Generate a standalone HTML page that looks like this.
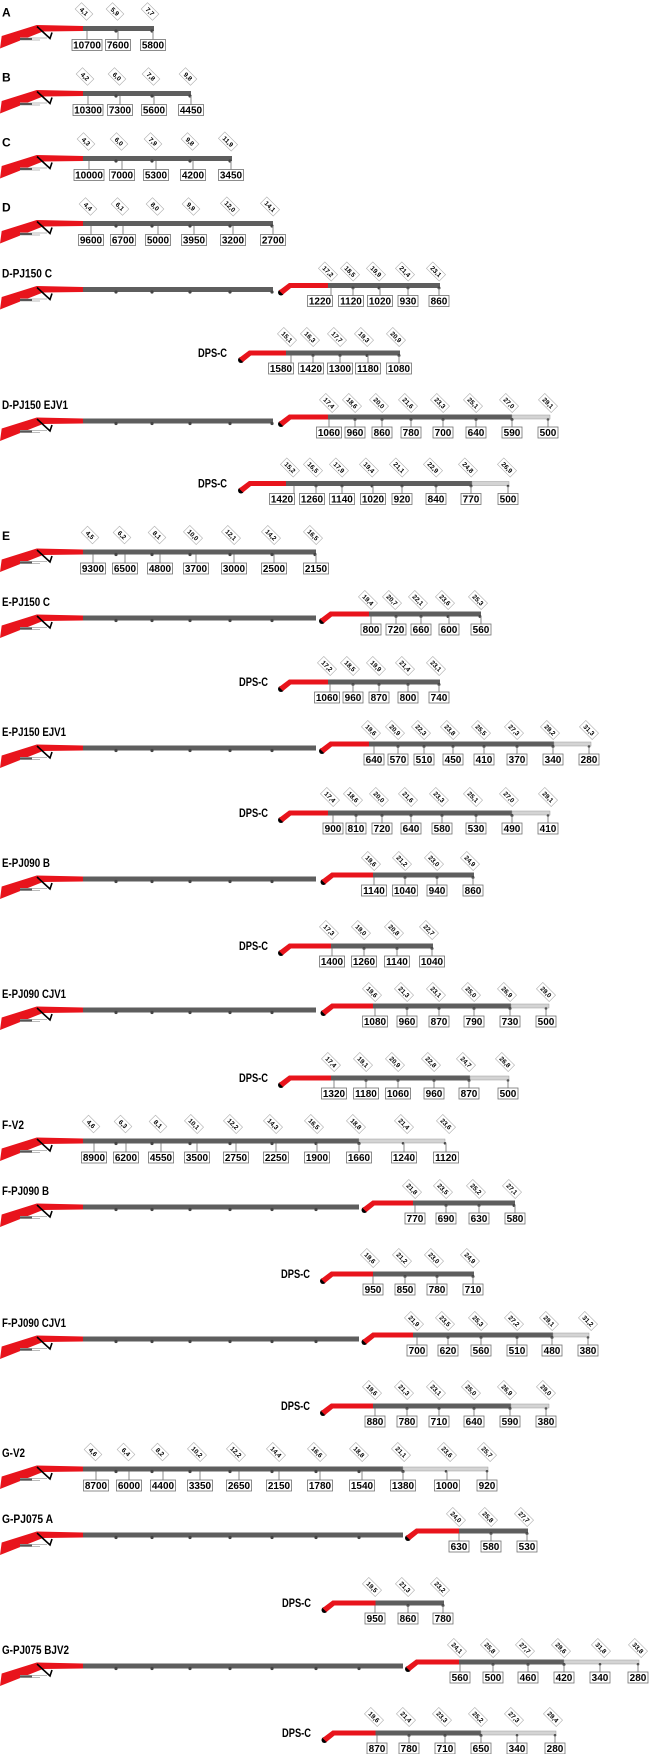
<!DOCTYPE html>
<html><head><meta charset="utf-8"><style>
html,body{margin:0;padding:0;background:#fff}
svg{display:block}
.t{font:bold 12px "Liberation Sans",sans-serif;fill:#000}
.d{fill:#5e5e5e}
.e{fill:#d4d4d4;stroke:#9a9a9a;stroke-width:.5}
.j{fill:#444}
.v line{stroke:#8a8a8a;stroke-width:1}
.v rect{fill:#fff;stroke:#707070;stroke-width:.8}
.v text{font:bold 10px "Liberation Sans",sans-serif;text-anchor:middle;fill:#000}
.l rect{fill:#fff;stroke:#b0b0b0;stroke-width:.6}
.l text{font:bold 6.5px "Liberation Sans",sans-serif;text-anchor:middle;fill:#000}
.r{fill:#e8141c}
</style></head><body>
<svg width="650" height="1754" viewBox="0 0 650 1754" xmlns="http://www.w3.org/2000/svg">
<defs>
<symbol id="b" overflow="visible"><polygon class="r" points="0,20 1.7,7.5 36.7,-3.5 83,-2.5 83,2.5 43,3"/><path d="M20,9.5H47M20,11.5H40" stroke="#bbb" stroke-width="1" fill="none"/><path d="M20,10.5H32" stroke="#555" stroke-width="2"/><path d="M37,-2 L50,10 L52,4" fill="none" stroke="#000" stroke-width="1.6"/></symbol>
<symbol id="jb" overflow="visible"><circle cx="0" cy="7" r="3" fill="#000"/><polygon class="r" points="-2,5 8,-2.5 12,-2.5 12,2.5 10,2.5 2,9"/></symbol>
</defs>

<!-- A -->
<g transform="translate(0,28.5)"><text class="t" x="2" y="-12">A</text><use href="#b"/>
<rect class="d" x="83" y="-2.5" width="71" height="5"/><circle class="j" cx="116" cy="2.5" r="1.6"/><circle class="j" cx="152" cy="2.5" r="1.6"/>
<g class="v" transform="translate(87,0)"><line y1="2.5" y2="11"/><rect x="-15" y="11" width="30" height="11"/><text y="20.2">10700</text></g>
<g class="v" transform="translate(118,0)"><line y1="2.5" y2="11"/><rect x="-12.5" y="11" width="25" height="11"/><text y="20.2">7600</text></g>
<g class="v" transform="translate(153,0)"><line y1="2.5" y2="11"/><rect x="-12.5" y="11" width="25" height="11"/><text y="20.2">5800</text></g>
<g class="l" transform="translate(84,-17) rotate(45)"><rect x="-8" y="-4.5" width="16" height="9"/><text y="2.3">4,1</text></g>
<g class="l" transform="translate(115,-17) rotate(45)"><rect x="-8" y="-4.5" width="16" height="9"/><text y="2.3">5,9</text></g>
<g class="l" transform="translate(150,-17) rotate(45)"><rect x="-8" y="-4.5" width="16" height="9"/><text y="2.3">7,7</text></g>
</g>

<!-- B -->
<g transform="translate(0,93.5)"><text class="t" x="2" y="-12">B</text><use href="#b"/>
<rect class="d" x="83" y="-2.5" width="108" height="5"/><circle class="j" cx="116" cy="2.5" r="1.6"/><circle class="j" cx="152" cy="2.5" r="1.6"/><circle class="j" cx="190" cy="2.5" r="1.6"/>
<g class="v" transform="translate(88,0)"><line y1="2.5" y2="11"/><rect x="-15" y="11" width="30" height="11"/><text y="20.2">10300</text></g>
<g class="v" transform="translate(120,0)"><line y1="2.5" y2="11"/><rect x="-12.5" y="11" width="25" height="11"/><text y="20.2">7300</text></g>
<g class="v" transform="translate(154,0)"><line y1="2.5" y2="11"/><rect x="-12.5" y="11" width="25" height="11"/><text y="20.2">5600</text></g>
<g class="v" transform="translate(191,0)"><line y1="2.5" y2="11"/><rect x="-12.5" y="11" width="25" height="11"/><text y="20.2">4450</text></g>
<g class="l" transform="translate(85,-17) rotate(45)"><rect x="-8" y="-4.5" width="16" height="9"/><text y="2.3">4,2</text></g>
<g class="l" transform="translate(117,-17) rotate(45)"><rect x="-8" y="-4.5" width="16" height="9"/><text y="2.3">6,0</text></g>
<g class="l" transform="translate(151,-17) rotate(45)"><rect x="-8" y="-4.5" width="16" height="9"/><text y="2.3">7,8</text></g>
<g class="l" transform="translate(188,-17) rotate(45)"><rect x="-8" y="-4.5" width="16" height="9"/><text y="2.3">9,8</text></g>
</g>

<!-- C -->
<g transform="translate(0,158.5)"><text class="t" x="2" y="-12">C</text><use href="#b"/>
<rect class="d" x="83" y="-2.5" width="149" height="5"/><circle class="j" cx="116" cy="2.5" r="1.6"/><circle class="j" cx="152" cy="2.5" r="1.6"/><circle class="j" cx="190" cy="2.5" r="1.6"/><circle class="j" cx="230" cy="2.5" r="1.6"/>
<g class="v" transform="translate(89,0)"><line y1="2.5" y2="11"/><rect x="-15" y="11" width="30" height="11"/><text y="20.2">10000</text></g>
<g class="v" transform="translate(122,0)"><line y1="2.5" y2="11"/><rect x="-12.5" y="11" width="25" height="11"/><text y="20.2">7000</text></g>
<g class="v" transform="translate(156,0)"><line y1="2.5" y2="11"/><rect x="-12.5" y="11" width="25" height="11"/><text y="20.2">5300</text></g>
<g class="v" transform="translate(193,0)"><line y1="2.5" y2="11"/><rect x="-12.5" y="11" width="25" height="11"/><text y="20.2">4200</text></g>
<g class="v" transform="translate(231,0)"><line y1="2.5" y2="11"/><rect x="-12.5" y="11" width="25" height="11"/><text y="20.2">3450</text></g>
<g class="l" transform="translate(86,-17) rotate(45)"><rect x="-8" y="-4.5" width="16" height="9"/><text y="2.3">4,3</text></g>
<g class="l" transform="translate(119,-17) rotate(45)"><rect x="-8" y="-4.5" width="16" height="9"/><text y="2.3">6,0</text></g>
<g class="l" transform="translate(153,-17) rotate(45)"><rect x="-8" y="-4.5" width="16" height="9"/><text y="2.3">7,9</text></g>
<g class="l" transform="translate(190,-17) rotate(45)"><rect x="-8" y="-4.5" width="16" height="9"/><text y="2.3">9,8</text></g>
<g class="l" transform="translate(228,-17) rotate(45)"><rect x="-9" y="-4.5" width="18" height="9"/><text y="2.3">11,9</text></g>
</g>

<!-- D -->
<g transform="translate(0,223.5)"><text class="t" x="2" y="-12">D</text><use href="#b"/>
<rect class="d" x="83" y="-2.5" width="190" height="5"/><circle class="j" cx="116" cy="2.5" r="1.6"/><circle class="j" cx="152" cy="2.5" r="1.6"/><circle class="j" cx="190" cy="2.5" r="1.6"/><circle class="j" cx="230" cy="2.5" r="1.6"/><circle class="j" cx="272" cy="2.5" r="1.6"/>
<g class="v" transform="translate(91,0)"><line y1="2.5" y2="11"/><rect x="-12.5" y="11" width="25" height="11"/><text y="20.2">9600</text></g>
<g class="v" transform="translate(123,0)"><line y1="2.5" y2="11"/><rect x="-12.5" y="11" width="25" height="11"/><text y="20.2">6700</text></g>
<g class="v" transform="translate(158,0)"><line y1="2.5" y2="11"/><rect x="-12.5" y="11" width="25" height="11"/><text y="20.2">5000</text></g>
<g class="v" transform="translate(194,0)"><line y1="2.5" y2="11"/><rect x="-12.5" y="11" width="25" height="11"/><text y="20.2">3950</text></g>
<g class="v" transform="translate(233,0)"><line y1="2.5" y2="11"/><rect x="-12.5" y="11" width="25" height="11"/><text y="20.2">3200</text></g>
<g class="v" transform="translate(273,0)"><line y1="2.5" y2="11"/><rect x="-12.5" y="11" width="25" height="11"/><text y="20.2">2700</text></g>
<g class="l" transform="translate(88,-17) rotate(45)"><rect x="-8" y="-4.5" width="16" height="9"/><text y="2.3">4,4</text></g>
<g class="l" transform="translate(120,-17) rotate(45)"><rect x="-8" y="-4.5" width="16" height="9"/><text y="2.3">6,1</text></g>
<g class="l" transform="translate(155,-17) rotate(45)"><rect x="-8" y="-4.5" width="16" height="9"/><text y="2.3">8,0</text></g>
<g class="l" transform="translate(191,-17) rotate(45)"><rect x="-8" y="-4.5" width="16" height="9"/><text y="2.3">9,9</text></g>
<g class="l" transform="translate(230,-17) rotate(45)"><rect x="-9" y="-4.5" width="18" height="9"/><text y="2.3">12,0</text></g>
<g class="l" transform="translate(270,-17) rotate(45)"><rect x="-9" y="-4.5" width="18" height="9"/><text y="2.3">14,1</text></g>
</g>

<!-- D-PJ150 C -->
<g transform="translate(0,289.5)"><text class="t" x="2" y="-12" textLength="50" lengthAdjust="spacingAndGlyphs">D-PJ150 C</text><use href="#b"/>
<rect class="d" x="83" y="-2.5" width="190" height="5"/><circle class="j" cx="116" cy="2.5" r="1.6"/><circle class="j" cx="152" cy="2.5" r="1.6"/><circle class="j" cx="190" cy="2.5" r="1.6"/><circle class="j" cx="230" cy="2.5" r="1.6"/><circle class="j" cx="272" cy="2.5" r="1.6"/>
<g transform="translate(0,-4)">
<use href="#jb" x="281"/><rect class="r" x="291" y="-2.5" width="37" height="5"/><rect class="d" x="328" y="-2.5" width="112" height="5"/>
<circle class="j" cx="353" cy="2.5" r="1.5"/><circle class="j" cx="379" cy="2.5" r="1.5"/><circle class="j" cx="408" cy="2.5" r="1.5"/><circle class="j" cx="439" cy="2.5" r="1.5"/>
<g class="v" transform="translate(320,0)"><line x1="11" x2="11" y1="2.5" y2="10"/><rect x="-12.5" y="10" width="25" height="11"/><text y="19.2">1220</text></g>
<g class="v" transform="translate(351,0)"><line x1="2" x2="2" y1="2.5" y2="10"/><rect x="-12.5" y="10" width="25" height="11"/><text y="19.2">1120</text></g>
<g class="v" transform="translate(380,0)"><line y1="2.5" y2="10"/><rect x="-12.5" y="10" width="25" height="11"/><text y="19.2">1020</text></g>
<g class="v" transform="translate(408,0)"><line y1="2.5" y2="10"/><rect x="-10" y="10" width="20" height="11"/><text y="19.2">930</text></g>
<g class="v" transform="translate(439,0)"><line y1="2.5" y2="10"/><rect x="-10" y="10" width="20" height="11"/><text y="19.2">860</text></g>
<g class="l" transform="translate(328,-14) rotate(45)"><rect x="-9" y="-4.5" width="18" height="9"/><text y="2.3">17,2</text></g>
<g class="l" transform="translate(350,-14) rotate(45)"><rect x="-9" y="-4.5" width="18" height="9"/><text y="2.3">18,5</text></g>
<g class="l" transform="translate(376,-14) rotate(45)"><rect x="-9" y="-4.5" width="18" height="9"/><text y="2.3">19,9</text></g>
<g class="l" transform="translate(405,-14) rotate(45)"><rect x="-9" y="-4.5" width="18" height="9"/><text y="2.3">21,4</text></g>
<g class="l" transform="translate(436,-14) rotate(45)"><rect x="-9" y="-4.5" width="18" height="9"/><text y="2.3">23,1</text></g>
</g></g>

<!-- DPS-C (D-PJ150 C) -->
<g transform="translate(0,353)"><text class="t" x="198" y="4" textLength="29" lengthAdjust="spacingAndGlyphs">DPS-C</text>
<use href="#jb" x="241"/><rect class="r" x="251" y="-2.5" width="35" height="5"/><rect class="d" x="286" y="-2.5" width="114" height="5"/>
<circle class="j" cx="313" cy="2.5" r="1.5"/><circle class="j" cx="340" cy="2.5" r="1.5"/><circle class="j" cx="367" cy="2.5" r="1.5"/><circle class="j" cx="399" cy="2.5" r="1.5"/>
<g class="v" transform="translate(281,0)"><line x1="10" x2="10" y1="2.5" y2="10"/><rect x="-12.5" y="10" width="25" height="11"/><text y="19.2">1580</text></g>
<g class="v" transform="translate(311,0)"><line x1="2" x2="2" y1="2.5" y2="10"/><rect x="-12.5" y="10" width="25" height="11"/><text y="19.2">1420</text></g>
<g class="v" transform="translate(340,0)"><line y1="2.5" y2="10"/><rect x="-12.5" y="10" width="25" height="11"/><text y="19.2">1300</text></g>
<g class="v" transform="translate(368,0)"><line y1="2.5" y2="10"/><rect x="-12.5" y="10" width="25" height="11"/><text y="19.2">1180</text></g>
<g class="v" transform="translate(399,0)"><line y1="2.5" y2="10"/><rect x="-12.5" y="10" width="25" height="11"/><text y="19.2">1080</text></g>
<g class="l" transform="translate(287,-16) rotate(45)"><rect x="-9" y="-4.5" width="18" height="9"/><text y="2.3">15,1</text></g>
<g class="l" transform="translate(310,-16) rotate(45)"><rect x="-9" y="-4.5" width="18" height="9"/><text y="2.3">16,3</text></g>
<g class="l" transform="translate(337,-16) rotate(45)"><rect x="-9" y="-4.5" width="18" height="9"/><text y="2.3">17,7</text></g>
<g class="l" transform="translate(364,-16) rotate(45)"><rect x="-9" y="-4.5" width="18" height="9"/><text y="2.3">19,3</text></g>
<g class="l" transform="translate(396,-16) rotate(45)"><rect x="-9" y="-4.5" width="18" height="9"/><text y="2.3">20,9</text></g>
</g>

<!-- D-PJ150 EJV1 -->
<g transform="translate(0,421)"><text class="t" x="2" y="-12" textLength="66" lengthAdjust="spacingAndGlyphs">D-PJ150 EJV1</text><use href="#b"/>
<rect class="d" x="83" y="-2.5" width="190" height="5"/><circle class="j" cx="116" cy="2.5" r="1.6"/><circle class="j" cx="152" cy="2.5" r="1.6"/><circle class="j" cx="190" cy="2.5" r="1.6"/><circle class="j" cx="230" cy="2.5" r="1.6"/><circle class="j" cx="272" cy="2.5" r="1.6"/>
<g transform="translate(0,-4)">
<use href="#jb" x="281"/><rect class="r" x="291" y="-2.5" width="37" height="5"/><rect class="d" x="328" y="-2.5" width="184" height="5"/><rect class="e" x="512" y="-2" width="38" height="4"/>
<circle class="j" cx="355" cy="2.5" r="1.5"/><circle class="j" cx="382" cy="2.5" r="1.5"/><circle class="j" cx="411" cy="2.5" r="1.5"/><circle class="j" cx="443" cy="2.5" r="1.5"/><circle class="j" cx="476" cy="2.5" r="1.5"/><circle class="j" cx="512" cy="2.5" r="1.5"/><circle class="j" cx="548" cy="2.5" r="1.3"/>
<g class="v" transform="translate(329,0)"><line y1="2.5" y2="10"/><rect x="-12.5" y="10" width="25" height="11"/><text y="19.2">1060</text></g>
<g class="v" transform="translate(355,0)"><line y1="2.5" y2="10"/><rect x="-10" y="10" width="20" height="11"/><text y="19.2">960</text></g>
<g class="v" transform="translate(382,0)"><line y1="2.5" y2="10"/><rect x="-10" y="10" width="20" height="11"/><text y="19.2">860</text></g>
<g class="v" transform="translate(411,0)"><line y1="2.5" y2="10"/><rect x="-10" y="10" width="20" height="11"/><text y="19.2">780</text></g>
<g class="v" transform="translate(443,0)"><line y1="2.5" y2="10"/><rect x="-10" y="10" width="20" height="11"/><text y="19.2">700</text></g>
<g class="v" transform="translate(476,0)"><line y1="2.5" y2="10"/><rect x="-10" y="10" width="20" height="11"/><text y="19.2">640</text></g>
<g class="v" transform="translate(512,0)"><line y1="2.5" y2="10"/><rect x="-10" y="10" width="20" height="11"/><text y="19.2">590</text></g>
<g class="v" transform="translate(548,0)"><line y1="2.5" y2="10"/><rect x="-10" y="10" width="20" height="11"/><text y="19.2">500</text></g>
<g class="l" transform="translate(329,-14) rotate(45)"><rect x="-9" y="-4.5" width="18" height="9"/><text y="2.3">17,4</text></g>
<g class="l" transform="translate(352,-14) rotate(45)"><rect x="-9" y="-4.5" width="18" height="9"/><text y="2.3">18,6</text></g>
<g class="l" transform="translate(379,-14) rotate(45)"><rect x="-9" y="-4.5" width="18" height="9"/><text y="2.3">20,0</text></g>
<g class="l" transform="translate(408,-14) rotate(45)"><rect x="-9" y="-4.5" width="18" height="9"/><text y="2.3">21,6</text></g>
<g class="l" transform="translate(440,-14) rotate(45)"><rect x="-9" y="-4.5" width="18" height="9"/><text y="2.3">23,3</text></g>
<g class="l" transform="translate(473,-14) rotate(45)"><rect x="-9" y="-4.5" width="18" height="9"/><text y="2.3">25,1</text></g>
<g class="l" transform="translate(509,-14) rotate(45)"><rect x="-9" y="-4.5" width="18" height="9"/><text y="2.3">27,0</text></g>
<g class="l" transform="translate(548,-14) rotate(45)"><rect x="-9" y="-4.5" width="18" height="9"/><text y="2.3">29,1</text></g>
</g></g>

<!-- DPS-C (D-PJ150 EJV1) -->
<g transform="translate(0,483.5)"><text class="t" x="198" y="4" textLength="29" lengthAdjust="spacingAndGlyphs">DPS-C</text>
<use href="#jb" x="241"/><rect class="r" x="251" y="-2.5" width="35" height="5"/><rect class="d" x="286" y="-2.5" width="186" height="5"/><rect class="e" x="472" y="-2" width="37" height="4"/>
<circle class="j" cx="316" cy="2.5" r="1.5"/><circle class="j" cx="342" cy="2.5" r="1.5"/><circle class="j" cx="372" cy="2.5" r="1.5"/><circle class="j" cx="402" cy="2.5" r="1.5"/><circle class="j" cx="436" cy="2.5" r="1.5"/><circle class="j" cx="471" cy="2.5" r="1.5"/><circle class="j" cx="508" cy="2.5" r="1.3"/>
<g class="v" transform="translate(282,0)"><line x1="12" x2="12" y1="2.5" y2="10"/><rect x="-12.5" y="10" width="25" height="11"/><text y="19.2">1420</text></g>
<g class="v" transform="translate(312,0)"><line x1="4" x2="4" y1="2.5" y2="10"/><rect x="-12.5" y="10" width="25" height="11"/><text y="19.2">1260</text></g>
<g class="v" transform="translate(342,0)"><line y1="2.5" y2="10"/><rect x="-12.5" y="10" width="25" height="11"/><text y="19.2">1140</text></g>
<g class="v" transform="translate(373,0)"><line y1="2.5" y2="10"/><rect x="-12.5" y="10" width="25" height="11"/><text y="19.2">1020</text></g>
<g class="v" transform="translate(402,0)"><line y1="2.5" y2="10"/><rect x="-10" y="10" width="20" height="11"/><text y="19.2">920</text></g>
<g class="v" transform="translate(436,0)"><line y1="2.5" y2="10"/><rect x="-10" y="10" width="20" height="11"/><text y="19.2">840</text></g>
<g class="v" transform="translate(471,0)"><line y1="2.5" y2="10"/><rect x="-10" y="10" width="20" height="11"/><text y="19.2">770</text></g>
<g class="v" transform="translate(508,0)"><line y1="2.5" y2="10"/><rect x="-10" y="10" width="20" height="11"/><text y="19.2">500</text></g>
<g class="l" transform="translate(290,-16) rotate(45)"><rect x="-9" y="-4.5" width="18" height="9"/><text y="2.3">15,2</text></g>
<g class="l" transform="translate(313,-16) rotate(45)"><rect x="-9" y="-4.5" width="18" height="9"/><text y="2.3">16,5</text></g>
<g class="l" transform="translate(339,-16) rotate(45)"><rect x="-9" y="-4.5" width="18" height="9"/><text y="2.3">17,9</text></g>
<g class="l" transform="translate(369,-16) rotate(45)"><rect x="-9" y="-4.5" width="18" height="9"/><text y="2.3">19,4</text></g>
<g class="l" transform="translate(399,-16) rotate(45)"><rect x="-9" y="-4.5" width="18" height="9"/><text y="2.3">21,1</text></g>
<g class="l" transform="translate(433,-16) rotate(45)"><rect x="-9" y="-4.5" width="18" height="9"/><text y="2.3">22,9</text></g>
<g class="l" transform="translate(468,-16) rotate(45)"><rect x="-9" y="-4.5" width="18" height="9"/><text y="2.3">24,8</text></g>
<g class="l" transform="translate(507,-16) rotate(45)"><rect x="-9" y="-4.5" width="18" height="9"/><text y="2.3">26,9</text></g>
</g>

<!-- E -->
<g transform="translate(0,552)"><text class="t" x="2" y="-12">E</text><use href="#b"/>
<rect class="d" x="83" y="-2.5" width="233" height="5"/><circle class="j" cx="116" cy="2.5" r="1.6"/><circle class="j" cx="152" cy="2.5" r="1.6"/><circle class="j" cx="190" cy="2.5" r="1.6"/><circle class="j" cx="230" cy="2.5" r="1.6"/><circle class="j" cx="272" cy="2.5" r="1.6"/><circle class="j" cx="315" cy="2.5" r="1.6"/>
<g class="v" transform="translate(93,0)"><line y1="2.5" y2="11"/><rect x="-12.5" y="11" width="25" height="11"/><text y="20.2">9300</text></g>
<g class="v" transform="translate(125,0)"><line y1="2.5" y2="11"/><rect x="-12.5" y="11" width="25" height="11"/><text y="20.2">6500</text></g>
<g class="v" transform="translate(160,0)"><line y1="2.5" y2="11"/><rect x="-12.5" y="11" width="25" height="11"/><text y="20.2">4800</text></g>
<g class="v" transform="translate(196,0)"><line y1="2.5" y2="11"/><rect x="-12.5" y="11" width="25" height="11"/><text y="20.2">3700</text></g>
<g class="v" transform="translate(234,0)"><line y1="2.5" y2="11"/><rect x="-12.5" y="11" width="25" height="11"/><text y="20.2">3000</text></g>
<g class="v" transform="translate(274,0)"><line y1="2.5" y2="11"/><rect x="-12.5" y="11" width="25" height="11"/><text y="20.2">2500</text></g>
<g class="v" transform="translate(316,0)"><line y1="2.5" y2="11"/><rect x="-12.5" y="11" width="25" height="11"/><text y="20.2">2150</text></g>
<g class="l" transform="translate(90,-17) rotate(45)"><rect x="-8" y="-4.5" width="16" height="9"/><text y="2.3">4,5</text></g>
<g class="l" transform="translate(122,-17) rotate(45)"><rect x="-8" y="-4.5" width="16" height="9"/><text y="2.3">6,2</text></g>
<g class="l" transform="translate(157,-17) rotate(45)"><rect x="-8" y="-4.5" width="16" height="9"/><text y="2.3">8,1</text></g>
<g class="l" transform="translate(193,-17) rotate(45)"><rect x="-9" y="-4.5" width="18" height="9"/><text y="2.3">10,0</text></g>
<g class="l" transform="translate(231,-17) rotate(45)"><rect x="-9" y="-4.5" width="18" height="9"/><text y="2.3">12,1</text></g>
<g class="l" transform="translate(271,-17) rotate(45)"><rect x="-9" y="-4.5" width="18" height="9"/><text y="2.3">14,2</text></g>
<g class="l" transform="translate(313,-17) rotate(45)"><rect x="-9" y="-4.5" width="18" height="9"/><text y="2.3">16,5</text></g>
</g>

<!-- E-PJ150 C -->
<g transform="translate(0,618)"><text class="t" x="2" y="-12" textLength="48" lengthAdjust="spacingAndGlyphs">E-PJ150 C</text><use href="#b"/>
<rect class="d" x="83" y="-2.5" width="233" height="5"/><circle class="j" cx="116" cy="2.5" r="1.6"/><circle class="j" cx="152" cy="2.5" r="1.6"/><circle class="j" cx="190" cy="2.5" r="1.6"/><circle class="j" cx="230" cy="2.5" r="1.6"/><circle class="j" cx="272" cy="2.5" r="1.6"/>
<g transform="translate(0,-4)">
<use href="#jb" x="322"/><rect class="r" x="332" y="-2.5" width="37" height="5"/><rect class="d" x="369" y="-2.5" width="112" height="5"/>
<circle class="j" cx="396" cy="2.5" r="1.5"/><circle class="j" cx="421" cy="2.5" r="1.5"/><circle class="j" cx="448" cy="2.5" r="1.5"/><circle class="j" cx="480" cy="2.5" r="1.5"/>
<g class="v" transform="translate(371,0)"><line y1="2.5" y2="10"/><rect x="-10" y="10" width="20" height="11"/><text y="19.2">800</text></g>
<g class="v" transform="translate(396,0)"><line y1="2.5" y2="10"/><rect x="-10" y="10" width="20" height="11"/><text y="19.2">720</text></g>
<g class="v" transform="translate(421,0)"><line y1="2.5" y2="10"/><rect x="-10" y="10" width="20" height="11"/><text y="19.2">660</text></g>
<g class="v" transform="translate(449,0)"><line y1="2.5" y2="10"/><rect x="-10" y="10" width="20" height="11"/><text y="19.2">600</text></g>
<g class="v" transform="translate(481,0)"><line y1="2.5" y2="10"/><rect x="-10" y="10" width="20" height="11"/><text y="19.2">560</text></g>
<g class="l" transform="translate(368,-14) rotate(45)"><rect x="-9" y="-4.5" width="18" height="9"/><text y="2.3">19,4</text></g>
<g class="l" transform="translate(392,-14) rotate(45)"><rect x="-9" y="-4.5" width="18" height="9"/><text y="2.3">20,7</text></g>
<g class="l" transform="translate(418,-14) rotate(45)"><rect x="-9" y="-4.5" width="18" height="9"/><text y="2.3">22,1</text></g>
<g class="l" transform="translate(445,-14) rotate(45)"><rect x="-9" y="-4.5" width="18" height="9"/><text y="2.3">23,6</text></g>
<g class="l" transform="translate(478,-14) rotate(45)"><rect x="-9" y="-4.5" width="18" height="9"/><text y="2.3">25,3</text></g>
</g></g>

<!-- DPS-C (E-PJ150 C) -->
<g transform="translate(0,682)"><text class="t" x="239" y="4" textLength="29" lengthAdjust="spacingAndGlyphs">DPS-C</text>
<use href="#jb" x="281"/><rect class="r" x="291" y="-2.5" width="37" height="5"/><rect class="d" x="328" y="-2.5" width="112" height="5"/>
<circle class="j" cx="353" cy="2.5" r="1.5"/><circle class="j" cx="379" cy="2.5" r="1.5"/><circle class="j" cx="408" cy="2.5" r="1.5"/><circle class="j" cx="439" cy="2.5" r="1.5"/>
<g class="v" transform="translate(327,0)"><line x1="3" x2="3" y1="2.5" y2="10"/><rect x="-12.5" y="10" width="25" height="11"/><text y="19.2">1060</text></g>
<g class="v" transform="translate(353,0)"><line y1="2.5" y2="10"/><rect x="-10" y="10" width="20" height="11"/><text y="19.2">960</text></g>
<g class="v" transform="translate(379,0)"><line y1="2.5" y2="10"/><rect x="-10" y="10" width="20" height="11"/><text y="19.2">870</text></g>
<g class="v" transform="translate(408,0)"><line y1="2.5" y2="10"/><rect x="-10" y="10" width="20" height="11"/><text y="19.2">800</text></g>
<g class="v" transform="translate(439,0)"><line y1="2.5" y2="10"/><rect x="-10" y="10" width="20" height="11"/><text y="19.2">740</text></g>
<g class="l" transform="translate(327,-16) rotate(45)"><rect x="-9" y="-4.5" width="18" height="9"/><text y="2.3">17,2</text></g>
<g class="l" transform="translate(350,-16) rotate(45)"><rect x="-9" y="-4.5" width="18" height="9"/><text y="2.3">18,5</text></g>
<g class="l" transform="translate(376,-16) rotate(45)"><rect x="-9" y="-4.5" width="18" height="9"/><text y="2.3">19,9</text></g>
<g class="l" transform="translate(405,-16) rotate(45)"><rect x="-9" y="-4.5" width="18" height="9"/><text y="2.3">21,4</text></g>
<g class="l" transform="translate(436,-16) rotate(45)"><rect x="-9" y="-4.5" width="18" height="9"/><text y="2.3">23,1</text></g>
</g>

<!-- E-PJ150 EJV1 -->
<g transform="translate(0,748)"><text class="t" x="2" y="-12" textLength="64" lengthAdjust="spacingAndGlyphs">E-PJ150 EJV1</text><use href="#b"/>
<rect class="d" x="83" y="-2.5" width="233" height="5"/><circle class="j" cx="116" cy="2.5" r="1.6"/><circle class="j" cx="152" cy="2.5" r="1.6"/><circle class="j" cx="190" cy="2.5" r="1.6"/><circle class="j" cx="230" cy="2.5" r="1.6"/><circle class="j" cx="272" cy="2.5" r="1.6"/>
<g transform="translate(0,-4)">
<use href="#jb" x="322"/><rect class="r" x="332" y="-2.5" width="37" height="5"/><rect class="d" x="369" y="-2.5" width="185" height="5"/><rect class="e" x="554" y="-2" width="37" height="4"/>
<circle class="j" cx="398" cy="2.5" r="1.5"/><circle class="j" cx="424" cy="2.5" r="1.5"/><circle class="j" cx="453" cy="2.5" r="1.5"/><circle class="j" cx="484" cy="2.5" r="1.5"/><circle class="j" cx="517" cy="2.5" r="1.5"/><circle class="j" cx="553" cy="2.5" r="1.5"/><circle class="j" cx="589" cy="2.5" r="1.3"/>
<g class="v" transform="translate(374,0)"><line y1="2.5" y2="10"/><rect x="-10" y="10" width="20" height="11"/><text y="19.2">640</text></g>
<g class="v" transform="translate(398,0)"><line y1="2.5" y2="10"/><rect x="-10" y="10" width="20" height="11"/><text y="19.2">570</text></g>
<g class="v" transform="translate(424,0)"><line y1="2.5" y2="10"/><rect x="-10" y="10" width="20" height="11"/><text y="19.2">510</text></g>
<g class="v" transform="translate(453,0)"><line y1="2.5" y2="10"/><rect x="-10" y="10" width="20" height="11"/><text y="19.2">450</text></g>
<g class="v" transform="translate(484,0)"><line y1="2.5" y2="10"/><rect x="-10" y="10" width="20" height="11"/><text y="19.2">410</text></g>
<g class="v" transform="translate(517,0)"><line y1="2.5" y2="10"/><rect x="-10" y="10" width="20" height="11"/><text y="19.2">370</text></g>
<g class="v" transform="translate(553,0)"><line y1="2.5" y2="10"/><rect x="-10" y="10" width="20" height="11"/><text y="19.2">340</text></g>
<g class="v" transform="translate(589,0)"><line y1="2.5" y2="10"/><rect x="-10" y="10" width="20" height="11"/><text y="19.2">280</text></g>
<g class="l" transform="translate(371,-14) rotate(45)"><rect x="-9" y="-4.5" width="18" height="9"/><text y="2.3">19,6</text></g>
<g class="l" transform="translate(395,-14) rotate(45)"><rect x="-9" y="-4.5" width="18" height="9"/><text y="2.3">20,9</text></g>
<g class="l" transform="translate(421,-14) rotate(45)"><rect x="-9" y="-4.5" width="18" height="9"/><text y="2.3">22,3</text></g>
<g class="l" transform="translate(450,-14) rotate(45)"><rect x="-9" y="-4.5" width="18" height="9"/><text y="2.3">23,8</text></g>
<g class="l" transform="translate(481,-14) rotate(45)"><rect x="-9" y="-4.5" width="18" height="9"/><text y="2.3">25,5</text></g>
<g class="l" transform="translate(514,-14) rotate(45)"><rect x="-9" y="-4.5" width="18" height="9"/><text y="2.3">27,3</text></g>
<g class="l" transform="translate(550,-14) rotate(45)"><rect x="-9" y="-4.5" width="18" height="9"/><text y="2.3">29,2</text></g>
<g class="l" transform="translate(589,-14) rotate(45)"><rect x="-9" y="-4.5" width="18" height="9"/><text y="2.3">31,3</text></g>
</g></g>

<!-- DPS-C (E-PJ150 EJV1) -->
<g transform="translate(0,813)"><text class="t" x="239" y="4" textLength="29" lengthAdjust="spacingAndGlyphs">DPS-C</text>
<use href="#jb" x="281"/><rect class="r" x="291" y="-2.5" width="37" height="5"/><rect class="d" x="328" y="-2.5" width="184" height="5"/><rect class="e" x="512" y="-2" width="38" height="4"/>
<circle class="j" cx="356" cy="2.5" r="1.5"/><circle class="j" cx="382" cy="2.5" r="1.5"/><circle class="j" cx="411" cy="2.5" r="1.5"/><circle class="j" cx="442" cy="2.5" r="1.5"/><circle class="j" cx="476" cy="2.5" r="1.5"/><circle class="j" cx="512" cy="2.5" r="1.5"/><circle class="j" cx="548" cy="2.5" r="1.3"/>
<g class="v" transform="translate(333,0)"><line y1="2.5" y2="10"/><rect x="-10" y="10" width="20" height="11"/><text y="19.2">900</text></g>
<g class="v" transform="translate(356,0)"><line y1="2.5" y2="10"/><rect x="-10" y="10" width="20" height="11"/><text y="19.2">810</text></g>
<g class="v" transform="translate(382,0)"><line y1="2.5" y2="10"/><rect x="-10" y="10" width="20" height="11"/><text y="19.2">720</text></g>
<g class="v" transform="translate(411,0)"><line y1="2.5" y2="10"/><rect x="-10" y="10" width="20" height="11"/><text y="19.2">640</text></g>
<g class="v" transform="translate(442,0)"><line y1="2.5" y2="10"/><rect x="-10" y="10" width="20" height="11"/><text y="19.2">580</text></g>
<g class="v" transform="translate(476,0)"><line y1="2.5" y2="10"/><rect x="-10" y="10" width="20" height="11"/><text y="19.2">530</text></g>
<g class="v" transform="translate(512,0)"><line y1="2.5" y2="10"/><rect x="-10" y="10" width="20" height="11"/><text y="19.2">490</text></g>
<g class="v" transform="translate(548,0)"><line y1="2.5" y2="10"/><rect x="-10" y="10" width="20" height="11"/><text y="19.2">410</text></g>
<g class="l" transform="translate(330,-16) rotate(45)"><rect x="-9" y="-4.5" width="18" height="9"/><text y="2.3">17,4</text></g>
<g class="l" transform="translate(353,-16) rotate(45)"><rect x="-9" y="-4.5" width="18" height="9"/><text y="2.3">18,6</text></g>
<g class="l" transform="translate(379,-16) rotate(45)"><rect x="-9" y="-4.5" width="18" height="9"/><text y="2.3">20,0</text></g>
<g class="l" transform="translate(408,-16) rotate(45)"><rect x="-9" y="-4.5" width="18" height="9"/><text y="2.3">21,6</text></g>
<g class="l" transform="translate(439,-16) rotate(45)"><rect x="-9" y="-4.5" width="18" height="9"/><text y="2.3">23,3</text></g>
<g class="l" transform="translate(473,-16) rotate(45)"><rect x="-9" y="-4.5" width="18" height="9"/><text y="2.3">25,1</text></g>
<g class="l" transform="translate(509,-16) rotate(45)"><rect x="-9" y="-4.5" width="18" height="9"/><text y="2.3">27,0</text></g>
<g class="l" transform="translate(548,-16) rotate(45)"><rect x="-9" y="-4.5" width="18" height="9"/><text y="2.3">29,1</text></g>
</g>

<!-- E-PJ090 B -->
<g transform="translate(0,879)"><text class="t" x="2" y="-12" textLength="48" lengthAdjust="spacingAndGlyphs">E-PJ090 B</text><use href="#b"/>
<rect class="d" x="83" y="-2.5" width="233" height="5"/><circle class="j" cx="116" cy="2.5" r="1.6"/><circle class="j" cx="152" cy="2.5" r="1.6"/><circle class="j" cx="190" cy="2.5" r="1.6"/><circle class="j" cx="230" cy="2.5" r="1.6"/><circle class="j" cx="272" cy="2.5" r="1.6"/>
<g transform="translate(0,-4)">
<use href="#jb" x="323.5"/><rect class="r" x="333" y="-2.5" width="40" height="5"/><rect class="d" x="373" y="-2.5" width="101" height="5"/>
<circle class="j" cx="405" cy="2.5" r="1.5"/><circle class="j" cx="437" cy="2.5" r="1.5"/><circle class="j" cx="473" cy="2.5" r="1.5"/>
<g class="v" transform="translate(374,0)"><line y1="2.5" y2="10"/><rect x="-12.5" y="10" width="25" height="11"/><text y="19.2">1140</text></g>
<g class="v" transform="translate(405,0)"><line y1="2.5" y2="10"/><rect x="-12.5" y="10" width="25" height="11"/><text y="19.2">1040</text></g>
<g class="v" transform="translate(437,0)"><line y1="2.5" y2="10"/><rect x="-10" y="10" width="20" height="11"/><text y="19.2">940</text></g>
<g class="v" transform="translate(473,0)"><line y1="2.5" y2="10"/><rect x="-10" y="10" width="20" height="11"/><text y="19.2">860</text></g>
<g class="l" transform="translate(371,-14) rotate(45)"><rect x="-9" y="-4.5" width="18" height="9"/><text y="2.3">19,6</text></g>
<g class="l" transform="translate(402,-14) rotate(45)"><rect x="-9" y="-4.5" width="18" height="9"/><text y="2.3">21,2</text></g>
<g class="l" transform="translate(434,-14) rotate(45)"><rect x="-9" y="-4.5" width="18" height="9"/><text y="2.3">23,0</text></g>
<g class="l" transform="translate(470,-14) rotate(45)"><rect x="-9" y="-4.5" width="18" height="9"/><text y="2.3">24,9</text></g>
</g></g>

<!-- DPS-C (E-PJ090 B) -->
<g transform="translate(0,946)"><text class="t" x="239" y="4" textLength="29" lengthAdjust="spacingAndGlyphs">DPS-C</text>
<use href="#jb" x="281"/><rect class="r" x="291" y="-2.5" width="40" height="5"/><rect class="d" x="331" y="-2.5" width="102" height="5"/>
<circle class="j" cx="364" cy="2.5" r="1.5"/><circle class="j" cx="397" cy="2.5" r="1.5"/><circle class="j" cx="432" cy="2.5" r="1.5"/>
<g class="v" transform="translate(332,0)"><line y1="2.5" y2="10"/><rect x="-12.5" y="10" width="25" height="11"/><text y="19.2">1400</text></g>
<g class="v" transform="translate(364,0)"><line y1="2.5" y2="10"/><rect x="-12.5" y="10" width="25" height="11"/><text y="19.2">1260</text></g>
<g class="v" transform="translate(397,0)"><line y1="2.5" y2="10"/><rect x="-12.5" y="10" width="25" height="11"/><text y="19.2">1140</text></g>
<g class="v" transform="translate(432,0)"><line y1="2.5" y2="10"/><rect x="-12.5" y="10" width="25" height="11"/><text y="19.2">1040</text></g>
<g class="l" transform="translate(329,-16) rotate(45)"><rect x="-9" y="-4.5" width="18" height="9"/><text y="2.3">17,3</text></g>
<g class="l" transform="translate(361,-16) rotate(45)"><rect x="-9" y="-4.5" width="18" height="9"/><text y="2.3">19,0</text></g>
<g class="l" transform="translate(394,-16) rotate(45)"><rect x="-9" y="-4.5" width="18" height="9"/><text y="2.3">20,8</text></g>
<g class="l" transform="translate(429,-16) rotate(45)"><rect x="-9" y="-4.5" width="18" height="9"/><text y="2.3">22,7</text></g>
</g>

<!-- E-PJ090 CJV1 -->
<g transform="translate(0,1010)"><text class="t" x="2" y="-12" textLength="64" lengthAdjust="spacingAndGlyphs">E-PJ090 CJV1</text><use href="#b"/>
<rect class="d" x="83" y="-2.5" width="233" height="5"/><circle class="j" cx="116" cy="2.5" r="1.6"/><circle class="j" cx="152" cy="2.5" r="1.6"/><circle class="j" cx="190" cy="2.5" r="1.6"/><circle class="j" cx="230" cy="2.5" r="1.6"/><circle class="j" cx="272" cy="2.5" r="1.6"/>
<g transform="translate(0,-4)">
<use href="#jb" x="323.5"/><rect class="r" x="333" y="-2.5" width="40" height="5"/><rect class="d" x="373" y="-2.5" width="138" height="5"/><rect class="e" x="511" y="-2" width="38" height="4"/>
<circle class="j" cx="407" cy="2.5" r="1.5"/><circle class="j" cx="439" cy="2.5" r="1.5"/><circle class="j" cx="474" cy="2.5" r="1.5"/><circle class="j" cx="510" cy="2.5" r="1.5"/><circle class="j" cx="546" cy="2.5" r="1.3"/>
<g class="v" transform="translate(375,0)"><line y1="2.5" y2="10"/><rect x="-12.5" y="10" width="25" height="11"/><text y="19.2">1080</text></g>
<g class="v" transform="translate(407,0)"><line y1="2.5" y2="10"/><rect x="-10" y="10" width="20" height="11"/><text y="19.2">960</text></g>
<g class="v" transform="translate(439,0)"><line y1="2.5" y2="10"/><rect x="-10" y="10" width="20" height="11"/><text y="19.2">870</text></g>
<g class="v" transform="translate(474,0)"><line y1="2.5" y2="10"/><rect x="-10" y="10" width="20" height="11"/><text y="19.2">790</text></g>
<g class="v" transform="translate(510,0)"><line y1="2.5" y2="10"/><rect x="-10" y="10" width="20" height="11"/><text y="19.2">730</text></g>
<g class="v" transform="translate(546,0)"><line y1="2.5" y2="10"/><rect x="-10" y="10" width="20" height="11"/><text y="19.2">500</text></g>
<g class="l" transform="translate(372,-14) rotate(45)"><rect x="-9" y="-4.5" width="18" height="9"/><text y="2.3">19,6</text></g>
<g class="l" transform="translate(404,-14) rotate(45)"><rect x="-9" y="-4.5" width="18" height="9"/><text y="2.3">21,3</text></g>
<g class="l" transform="translate(436,-14) rotate(45)"><rect x="-9" y="-4.5" width="18" height="9"/><text y="2.3">23,1</text></g>
<g class="l" transform="translate(471,-14) rotate(45)"><rect x="-9" y="-4.5" width="18" height="9"/><text y="2.3">25,0</text></g>
<g class="l" transform="translate(507,-14) rotate(45)"><rect x="-9" y="-4.5" width="18" height="9"/><text y="2.3">26,9</text></g>
<g class="l" transform="translate(546,-14) rotate(45)"><rect x="-9" y="-4.5" width="18" height="9"/><text y="2.3">29,0</text></g>
</g></g>

<!-- DPS-C (E-PJ090 CJV1) -->
<g transform="translate(0,1078)"><text class="t" x="239" y="4" textLength="29" lengthAdjust="spacingAndGlyphs">DPS-C</text>
<use href="#jb" x="281"/><rect class="r" x="291" y="-2.5" width="40" height="5"/><rect class="d" x="331" y="-2.5" width="139" height="5"/><rect class="e" x="470" y="-2" width="39" height="4"/>
<circle class="j" cx="366" cy="2.5" r="1.5"/><circle class="j" cx="398" cy="2.5" r="1.5"/><circle class="j" cx="434" cy="2.5" r="1.5"/><circle class="j" cx="469" cy="2.5" r="1.5"/><circle class="j" cx="508" cy="2.5" r="1.3"/>
<g class="v" transform="translate(334,0)"><line y1="2.5" y2="10"/><rect x="-12.5" y="10" width="25" height="11"/><text y="19.2">1320</text></g>
<g class="v" transform="translate(366,0)"><line y1="2.5" y2="10"/><rect x="-12.5" y="10" width="25" height="11"/><text y="19.2">1180</text></g>
<g class="v" transform="translate(398,0)"><line y1="2.5" y2="10"/><rect x="-12.5" y="10" width="25" height="11"/><text y="19.2">1060</text></g>
<g class="v" transform="translate(434,0)"><line y1="2.5" y2="10"/><rect x="-10" y="10" width="20" height="11"/><text y="19.2">960</text></g>
<g class="v" transform="translate(469,0)"><line y1="2.5" y2="10"/><rect x="-10" y="10" width="20" height="11"/><text y="19.2">870</text></g>
<g class="v" transform="translate(508,0)"><line y1="2.5" y2="10"/><rect x="-10" y="10" width="20" height="11"/><text y="19.2">500</text></g>
<g class="l" transform="translate(331,-16) rotate(45)"><rect x="-9" y="-4.5" width="18" height="9"/><text y="2.3">17,4</text></g>
<g class="l" transform="translate(363,-16) rotate(45)"><rect x="-9" y="-4.5" width="18" height="9"/><text y="2.3">19,1</text></g>
<g class="l" transform="translate(395,-16) rotate(45)"><rect x="-9" y="-4.5" width="18" height="9"/><text y="2.3">20,9</text></g>
<g class="l" transform="translate(431,-16) rotate(45)"><rect x="-9" y="-4.5" width="18" height="9"/><text y="2.3">22,8</text></g>
<g class="l" transform="translate(466,-16) rotate(45)"><rect x="-9" y="-4.5" width="18" height="9"/><text y="2.3">24,7</text></g>
<g class="l" transform="translate(505,-16) rotate(45)"><rect x="-9" y="-4.5" width="18" height="9"/><text y="2.3">26,8</text></g>
</g>

<!-- F-V2 -->
<g transform="translate(0,1141)"><text class="t" x="2" y="-12" textLength="22" lengthAdjust="spacingAndGlyphs">F-V2</text><use href="#b"/>
<rect class="d" x="83" y="-2.5" width="276" height="5"/><rect class="e" x="359" y="-2" width="86" height="4"/>
<circle class="j" cx="116" cy="2.5" r="1.6"/><circle class="j" cx="152" cy="2.5" r="1.6"/><circle class="j" cx="190" cy="2.5" r="1.6"/><circle class="j" cx="230" cy="2.5" r="1.6"/><circle class="j" cx="272" cy="2.5" r="1.6"/><circle class="j" cx="316" cy="2.5" r="1.6"/><circle class="j" cx="359" cy="2.5" r="1.6"/><circle class="j" cx="403" cy="2.3" r="1.3"/><circle class="j" cx="445" cy="2.3" r="1.3"/>
<g class="v" transform="translate(94,0)"><line y1="2.5" y2="11"/><rect x="-12.5" y="11" width="25" height="11"/><text y="20.2">8900</text></g>
<g class="v" transform="translate(126,0)"><line y1="2.5" y2="11"/><rect x="-12.5" y="11" width="25" height="11"/><text y="20.2">6200</text></g>
<g class="v" transform="translate(161,0)"><line y1="2.5" y2="11"/><rect x="-12.5" y="11" width="25" height="11"/><text y="20.2">4550</text></g>
<g class="v" transform="translate(197,0)"><line y1="2.5" y2="11"/><rect x="-12.5" y="11" width="25" height="11"/><text y="20.2">3500</text></g>
<g class="v" transform="translate(236,0)"><line y1="2.5" y2="11"/><rect x="-12.5" y="11" width="25" height="11"/><text y="20.2">2750</text></g>
<g class="v" transform="translate(276,0)"><line y1="2.5" y2="11"/><rect x="-12.5" y="11" width="25" height="11"/><text y="20.2">2250</text></g>
<g class="v" transform="translate(317,0)"><line y1="2.5" y2="11"/><rect x="-12.5" y="11" width="25" height="11"/><text y="20.2">1900</text></g>
<g class="v" transform="translate(359,0)"><line y1="2.5" y2="11"/><rect x="-12.5" y="11" width="25" height="11"/><text y="20.2">1660</text></g>
<g class="v" transform="translate(404,0)"><line y1="2.5" y2="11"/><rect x="-12.5" y="11" width="25" height="11"/><text y="20.2">1240</text></g>
<g class="v" transform="translate(446,0)"><line y1="2.5" y2="11"/><rect x="-12.5" y="11" width="25" height="11"/><text y="20.2">1120</text></g>
<g class="l" transform="translate(91,-17) rotate(45)"><rect x="-8" y="-4.5" width="16" height="9"/><text y="2.3">4,6</text></g>
<g class="l" transform="translate(123,-17) rotate(45)"><rect x="-8" y="-4.5" width="16" height="9"/><text y="2.3">6,3</text></g>
<g class="l" transform="translate(158,-17) rotate(45)"><rect x="-8" y="-4.5" width="16" height="9"/><text y="2.3">8,1</text></g>
<g class="l" transform="translate(194,-17) rotate(45)"><rect x="-9" y="-4.5" width="18" height="9"/><text y="2.3">10,1</text></g>
<g class="l" transform="translate(233,-17) rotate(45)"><rect x="-9" y="-4.5" width="18" height="9"/><text y="2.3">12,2</text></g>
<g class="l" transform="translate(273,-17) rotate(45)"><rect x="-9" y="-4.5" width="18" height="9"/><text y="2.3">14,3</text></g>
<g class="l" transform="translate(314,-17) rotate(45)"><rect x="-9" y="-4.5" width="18" height="9"/><text y="2.3">16,5</text></g>
<g class="l" transform="translate(356,-17) rotate(45)"><rect x="-9" y="-4.5" width="18" height="9"/><text y="2.3">18,8</text></g>
<g class="l" transform="translate(404,-17) rotate(45)"><rect x="-9" y="-4.5" width="18" height="9"/><text y="2.3">21,4</text></g>
<g class="l" transform="translate(446,-17) rotate(45)"><rect x="-9" y="-4.5" width="18" height="9"/><text y="2.3">23,6</text></g>
</g>

<!-- F-PJ090 B -->
<g transform="translate(0,1207)"><text class="t" x="2" y="-12" textLength="47" lengthAdjust="spacingAndGlyphs">F-PJ090 B</text><use href="#b"/>
<rect class="d" x="83" y="-2.5" width="276" height="5"/><circle class="j" cx="116" cy="2.5" r="1.6"/><circle class="j" cx="152" cy="2.5" r="1.6"/><circle class="j" cx="190" cy="2.5" r="1.6"/><circle class="j" cx="230" cy="2.5" r="1.6"/><circle class="j" cx="272" cy="2.5" r="1.6"/><circle class="j" cx="316" cy="2.5" r="1.6"/>
<g transform="translate(0,-4)">
<use href="#jb" x="364.5"/><rect class="r" x="374" y="-2.5" width="39" height="5"/><rect class="d" x="413" y="-2.5" width="102" height="5"/>
<circle class="j" cx="446" cy="2.5" r="1.5"/><circle class="j" cx="479" cy="2.5" r="1.5"/><circle class="j" cx="514" cy="2.5" r="1.5"/>
<g class="v" transform="translate(415,0)"><line y1="2.5" y2="10"/><rect x="-10" y="10" width="20" height="11"/><text y="19.2">770</text></g>
<g class="v" transform="translate(446,0)"><line y1="2.5" y2="10"/><rect x="-10" y="10" width="20" height="11"/><text y="19.2">690</text></g>
<g class="v" transform="translate(479,0)"><line y1="2.5" y2="10"/><rect x="-10" y="10" width="20" height="11"/><text y="19.2">630</text></g>
<g class="v" transform="translate(515,0)"><line y1="2.5" y2="10"/><rect x="-10" y="10" width="20" height="11"/><text y="19.2">580</text></g>
<g class="l" transform="translate(412,-14) rotate(45)"><rect x="-9" y="-4.5" width="18" height="9"/><text y="2.3">21,8</text></g>
<g class="l" transform="translate(443,-14) rotate(45)"><rect x="-9" y="-4.5" width="18" height="9"/><text y="2.3">23,5</text></g>
<g class="l" transform="translate(476,-14) rotate(45)"><rect x="-9" y="-4.5" width="18" height="9"/><text y="2.3">25,2</text></g>
<g class="l" transform="translate(512,-14) rotate(45)"><rect x="-9" y="-4.5" width="18" height="9"/><text y="2.3">27,1</text></g>
</g></g>

<!-- DPS-C (F-PJ090 B) -->
<g transform="translate(0,1274)"><text class="t" x="281" y="4" textLength="29" lengthAdjust="spacingAndGlyphs">DPS-C</text>
<use href="#jb" x="323"/><rect class="r" x="333" y="-2.5" width="40" height="5"/><rect class="d" x="373" y="-2.5" width="101" height="5"/>
<circle class="j" cx="405" cy="2.5" r="1.5"/><circle class="j" cx="437" cy="2.5" r="1.5"/><circle class="j" cx="473" cy="2.5" r="1.5"/>
<g class="v" transform="translate(373,0)"><line y1="2.5" y2="10"/><rect x="-10" y="10" width="20" height="11"/><text y="19.2">950</text></g>
<g class="v" transform="translate(405,0)"><line y1="2.5" y2="10"/><rect x="-10" y="10" width="20" height="11"/><text y="19.2">850</text></g>
<g class="v" transform="translate(437,0)"><line y1="2.5" y2="10"/><rect x="-10" y="10" width="20" height="11"/><text y="19.2">780</text></g>
<g class="v" transform="translate(473,0)"><line y1="2.5" y2="10"/><rect x="-10" y="10" width="20" height="11"/><text y="19.2">710</text></g>
<g class="l" transform="translate(370,-16) rotate(45)"><rect x="-9" y="-4.5" width="18" height="9"/><text y="2.3">19,6</text></g>
<g class="l" transform="translate(402,-16) rotate(45)"><rect x="-9" y="-4.5" width="18" height="9"/><text y="2.3">21,2</text></g>
<g class="l" transform="translate(434,-16) rotate(45)"><rect x="-9" y="-4.5" width="18" height="9"/><text y="2.3">23,0</text></g>
<g class="l" transform="translate(470,-16) rotate(45)"><rect x="-9" y="-4.5" width="18" height="9"/><text y="2.3">24,9</text></g>
</g>

<!-- F-PJ090 CJV1 -->
<g transform="translate(0,1339)"><text class="t" x="2" y="-12" textLength="64" lengthAdjust="spacingAndGlyphs">F-PJ090 CJV1</text><use href="#b"/>
<rect class="d" x="83" y="-2.5" width="276" height="5"/><circle class="j" cx="116" cy="2.5" r="1.6"/><circle class="j" cx="152" cy="2.5" r="1.6"/><circle class="j" cx="190" cy="2.5" r="1.6"/><circle class="j" cx="230" cy="2.5" r="1.6"/><circle class="j" cx="272" cy="2.5" r="1.6"/><circle class="j" cx="316" cy="2.5" r="1.6"/>
<g transform="translate(0,-4)">
<use href="#jb" x="364.5"/><rect class="r" x="374" y="-2.5" width="39" height="5"/><rect class="d" x="413" y="-2.5" width="140" height="5"/><rect class="e" x="553" y="-2" width="36" height="4"/>
<circle class="j" cx="448" cy="2.5" r="1.5"/><circle class="j" cx="481" cy="2.5" r="1.5"/><circle class="j" cx="517" cy="2.5" r="1.5"/><circle class="j" cx="552" cy="2.5" r="1.5"/><circle class="j" cx="588" cy="2.5" r="1.3"/>
<g class="v" transform="translate(417,0)"><line y1="2.5" y2="10"/><rect x="-10" y="10" width="20" height="11"/><text y="19.2">700</text></g>
<g class="v" transform="translate(448,0)"><line y1="2.5" y2="10"/><rect x="-10" y="10" width="20" height="11"/><text y="19.2">620</text></g>
<g class="v" transform="translate(481,0)"><line y1="2.5" y2="10"/><rect x="-10" y="10" width="20" height="11"/><text y="19.2">560</text></g>
<g class="v" transform="translate(517,0)"><line y1="2.5" y2="10"/><rect x="-10" y="10" width="20" height="11"/><text y="19.2">510</text></g>
<g class="v" transform="translate(552,0)"><line y1="2.5" y2="10"/><rect x="-10" y="10" width="20" height="11"/><text y="19.2">480</text></g>
<g class="v" transform="translate(588,0)"><line y1="2.5" y2="10"/><rect x="-10" y="10" width="20" height="11"/><text y="19.2">380</text></g>
<g class="l" transform="translate(414,-14) rotate(45)"><rect x="-9" y="-4.5" width="18" height="9"/><text y="2.3">21,9</text></g>
<g class="l" transform="translate(445,-14) rotate(45)"><rect x="-9" y="-4.5" width="18" height="9"/><text y="2.3">23,5</text></g>
<g class="l" transform="translate(478,-14) rotate(45)"><rect x="-9" y="-4.5" width="18" height="9"/><text y="2.3">25,3</text></g>
<g class="l" transform="translate(514,-14) rotate(45)"><rect x="-9" y="-4.5" width="18" height="9"/><text y="2.3">27,2</text></g>
<g class="l" transform="translate(549,-14) rotate(45)"><rect x="-9" y="-4.5" width="18" height="9"/><text y="2.3">29,1</text></g>
<g class="l" transform="translate(588,-14) rotate(45)"><rect x="-9" y="-4.5" width="18" height="9"/><text y="2.3">31,2</text></g>
</g></g>

<!-- DPS-C (F-PJ090 CJV1) -->
<g transform="translate(0,1406)"><text class="t" x="281" y="4" textLength="29" lengthAdjust="spacingAndGlyphs">DPS-C</text>
<use href="#jb" x="323"/><rect class="r" x="333" y="-2.5" width="40" height="5"/><rect class="d" x="373" y="-2.5" width="138" height="5"/><rect class="e" x="511" y="-2" width="38" height="4"/>
<circle class="j" cx="407" cy="2.5" r="1.5"/><circle class="j" cx="439" cy="2.5" r="1.5"/><circle class="j" cx="474" cy="2.5" r="1.5"/><circle class="j" cx="510" cy="2.5" r="1.5"/><circle class="j" cx="546" cy="2.5" r="1.3"/>
<g class="v" transform="translate(375,0)"><line y1="2.5" y2="10"/><rect x="-10" y="10" width="20" height="11"/><text y="19.2">880</text></g>
<g class="v" transform="translate(407,0)"><line y1="2.5" y2="10"/><rect x="-10" y="10" width="20" height="11"/><text y="19.2">780</text></g>
<g class="v" transform="translate(439,0)"><line y1="2.5" y2="10"/><rect x="-10" y="10" width="20" height="11"/><text y="19.2">710</text></g>
<g class="v" transform="translate(474,0)"><line y1="2.5" y2="10"/><rect x="-10" y="10" width="20" height="11"/><text y="19.2">640</text></g>
<g class="v" transform="translate(510,0)"><line y1="2.5" y2="10"/><rect x="-10" y="10" width="20" height="11"/><text y="19.2">590</text></g>
<g class="v" transform="translate(546,0)"><line y1="2.5" y2="10"/><rect x="-10" y="10" width="20" height="11"/><text y="19.2">380</text></g>
<g class="l" transform="translate(372,-16) rotate(45)"><rect x="-9" y="-4.5" width="18" height="9"/><text y="2.3">19,6</text></g>
<g class="l" transform="translate(404,-16) rotate(45)"><rect x="-9" y="-4.5" width="18" height="9"/><text y="2.3">21,3</text></g>
<g class="l" transform="translate(436,-16) rotate(45)"><rect x="-9" y="-4.5" width="18" height="9"/><text y="2.3">23,1</text></g>
<g class="l" transform="translate(471,-16) rotate(45)"><rect x="-9" y="-4.5" width="18" height="9"/><text y="2.3">25,0</text></g>
<g class="l" transform="translate(507,-16) rotate(45)"><rect x="-9" y="-4.5" width="18" height="9"/><text y="2.3">26,9</text></g>
<g class="l" transform="translate(546,-16) rotate(45)"><rect x="-9" y="-4.5" width="18" height="9"/><text y="2.3">29,0</text></g>
</g>

<!-- G-V2 -->
<g transform="translate(0,1469)"><text class="t" x="2" y="-12" textLength="23" lengthAdjust="spacingAndGlyphs">G-V2</text><use href="#b"/>
<rect class="d" x="83" y="-2.5" width="320" height="5"/><rect class="e" x="403" y="-2" width="85" height="4"/>
<circle class="j" cx="116" cy="2.5" r="1.6"/><circle class="j" cx="152" cy="2.5" r="1.6"/><circle class="j" cx="190" cy="2.5" r="1.6"/><circle class="j" cx="230" cy="2.5" r="1.6"/><circle class="j" cx="272" cy="2.5" r="1.6"/><circle class="j" cx="316" cy="2.5" r="1.6"/><circle class="j" cx="359" cy="2.5" r="1.6"/><circle class="j" cx="403" cy="2.5" r="1.6"/><circle class="j" cx="446" cy="2.3" r="1.3"/><circle class="j" cx="487" cy="2.3" r="1.3"/>
<g class="v" transform="translate(96,0)"><line y1="2.5" y2="11"/><rect x="-12.5" y="11" width="25" height="11"/><text y="20.2">8700</text></g>
<g class="v" transform="translate(129,0)"><line y1="2.5" y2="11"/><rect x="-12.5" y="11" width="25" height="11"/><text y="20.2">6000</text></g>
<g class="v" transform="translate(163,0)"><line y1="2.5" y2="11"/><rect x="-12.5" y="11" width="25" height="11"/><text y="20.2">4400</text></g>
<g class="v" transform="translate(200,0)"><line y1="2.5" y2="11"/><rect x="-12.5" y="11" width="25" height="11"/><text y="20.2">3350</text></g>
<g class="v" transform="translate(239,0)"><line y1="2.5" y2="11"/><rect x="-12.5" y="11" width="25" height="11"/><text y="20.2">2650</text></g>
<g class="v" transform="translate(279,0)"><line y1="2.5" y2="11"/><rect x="-12.5" y="11" width="25" height="11"/><text y="20.2">2150</text></g>
<g class="v" transform="translate(320,0)"><line y1="2.5" y2="11"/><rect x="-12.5" y="11" width="25" height="11"/><text y="20.2">1780</text></g>
<g class="v" transform="translate(362,0)"><line y1="2.5" y2="11"/><rect x="-12.5" y="11" width="25" height="11"/><text y="20.2">1540</text></g>
<g class="v" transform="translate(403,0)"><line y1="2.5" y2="11"/><rect x="-12.5" y="11" width="25" height="11"/><text y="20.2">1380</text></g>
<g class="v" transform="translate(447,0)"><line y1="2.5" y2="11"/><rect x="-12.5" y="11" width="25" height="11"/><text y="20.2">1000</text></g>
<g class="v" transform="translate(487,0)"><line y1="2.5" y2="11"/><rect x="-10" y="11" width="20" height="11"/><text y="20.2">920</text></g>
<g class="l" transform="translate(93,-17) rotate(45)"><rect x="-8" y="-4.5" width="16" height="9"/><text y="2.3">4,6</text></g>
<g class="l" transform="translate(126,-17) rotate(45)"><rect x="-8" y="-4.5" width="16" height="9"/><text y="2.3">6,4</text></g>
<g class="l" transform="translate(160,-17) rotate(45)"><rect x="-8" y="-4.5" width="16" height="9"/><text y="2.3">8,2</text></g>
<g class="l" transform="translate(197,-17) rotate(45)"><rect x="-9" y="-4.5" width="18" height="9"/><text y="2.3">10,2</text></g>
<g class="l" transform="translate(236,-17) rotate(45)"><rect x="-9" y="-4.5" width="18" height="9"/><text y="2.3">12,2</text></g>
<g class="l" transform="translate(276,-17) rotate(45)"><rect x="-9" y="-4.5" width="18" height="9"/><text y="2.3">14,4</text></g>
<g class="l" transform="translate(317,-17) rotate(45)"><rect x="-9" y="-4.5" width="18" height="9"/><text y="2.3">16,6</text></g>
<g class="l" transform="translate(359,-17) rotate(45)"><rect x="-9" y="-4.5" width="18" height="9"/><text y="2.3">18,8</text></g>
<g class="l" transform="translate(401,-17) rotate(45)"><rect x="-9" y="-4.5" width="18" height="9"/><text y="2.3">21,1</text></g>
<g class="l" transform="translate(447,-17) rotate(45)"><rect x="-9" y="-4.5" width="18" height="9"/><text y="2.3">23,6</text></g>
<g class="l" transform="translate(487,-17) rotate(45)"><rect x="-9" y="-4.5" width="18" height="9"/><text y="2.3">25,7</text></g>
</g>

<!-- G-PJ075 A -->
<g transform="translate(0,1535)"><text class="t" x="2" y="-12" textLength="51" lengthAdjust="spacingAndGlyphs">G-PJ075 A</text><use href="#b"/>
<rect class="d" x="83" y="-2.5" width="320" height="5"/><circle class="j" cx="116" cy="2.5" r="1.6"/><circle class="j" cx="152" cy="2.5" r="1.6"/><circle class="j" cx="190" cy="2.5" r="1.6"/><circle class="j" cx="230" cy="2.5" r="1.6"/><circle class="j" cx="272" cy="2.5" r="1.6"/><circle class="j" cx="316" cy="2.5" r="1.6"/><circle class="j" cx="359" cy="2.5" r="1.6"/>
<g transform="translate(0,-4)">
<use href="#jb" x="408"/><rect class="r" x="418" y="-2.5" width="41" height="5"/><rect class="d" x="459" y="-2.5" width="69" height="5"/>
<circle class="j" cx="491" cy="2.5" r="1.5"/><circle class="j" cx="527" cy="2.5" r="1.5"/>
<g class="v" transform="translate(459,0)"><line y1="2.5" y2="10"/><rect x="-10" y="10" width="20" height="11"/><text y="19.2">630</text></g>
<g class="v" transform="translate(491,0)"><line y1="2.5" y2="10"/><rect x="-10" y="10" width="20" height="11"/><text y="19.2">580</text></g>
<g class="v" transform="translate(527,0)"><line y1="2.5" y2="10"/><rect x="-10" y="10" width="20" height="11"/><text y="19.2">530</text></g>
<g class="l" transform="translate(456,-14) rotate(45)"><rect x="-9" y="-4.5" width="18" height="9"/><text y="2.3">24,0</text></g>
<g class="l" transform="translate(488,-14) rotate(45)"><rect x="-9" y="-4.5" width="18" height="9"/><text y="2.3">25,8</text></g>
<g class="l" transform="translate(524,-14) rotate(45)"><rect x="-9" y="-4.5" width="18" height="9"/><text y="2.3">27,7</text></g>
</g></g>

<!-- DPS-C (G-PJ075 A) -->
<g transform="translate(0,1603)"><text class="t" x="282" y="4" textLength="29" lengthAdjust="spacingAndGlyphs">DPS-C</text>
<use href="#jb" x="324.5"/><rect class="r" x="334" y="-2.5" width="41.5" height="5"/><rect class="d" x="375.5" y="-2.5" width="68.5" height="5"/>
<circle class="j" cx="408" cy="2.5" r="1.5"/><circle class="j" cx="443" cy="2.5" r="1.5"/>
<g class="v" transform="translate(375,0)"><line y1="2.5" y2="10"/><rect x="-10" y="10" width="20" height="11"/><text y="19.2">950</text></g>
<g class="v" transform="translate(408,0)"><line y1="2.5" y2="10"/><rect x="-10" y="10" width="20" height="11"/><text y="19.2">860</text></g>
<g class="v" transform="translate(443,0)"><line y1="2.5" y2="10"/><rect x="-10" y="10" width="20" height="11"/><text y="19.2">780</text></g>
<g class="l" transform="translate(372,-16) rotate(45)"><rect x="-9" y="-4.5" width="18" height="9"/><text y="2.3">19,5</text></g>
<g class="l" transform="translate(405,-16) rotate(45)"><rect x="-9" y="-4.5" width="18" height="9"/><text y="2.3">21,3</text></g>
<g class="l" transform="translate(440,-16) rotate(45)"><rect x="-9" y="-4.5" width="18" height="9"/><text y="2.3">23,2</text></g>
</g>

<!-- G-PJ075 BJV2 -->
<g transform="translate(0,1666)"><text class="t" x="2" y="-12" textLength="67" lengthAdjust="spacingAndGlyphs">G-PJ075 BJV2</text><use href="#b"/>
<rect class="d" x="83" y="-2.5" width="320" height="5"/><circle class="j" cx="116" cy="2.5" r="1.6"/><circle class="j" cx="152" cy="2.5" r="1.6"/><circle class="j" cx="190" cy="2.5" r="1.6"/><circle class="j" cx="230" cy="2.5" r="1.6"/><circle class="j" cx="272" cy="2.5" r="1.6"/><circle class="j" cx="316" cy="2.5" r="1.6"/><circle class="j" cx="359" cy="2.5" r="1.6"/>
<g transform="translate(0,-4)">
<use href="#jb" x="408"/><rect class="r" x="418" y="-2.5" width="41" height="5"/><rect class="d" x="459" y="-2.5" width="105" height="5"/><rect class="e" x="564" y="-2" width="75" height="4"/>
<circle class="j" cx="493" cy="2.5" r="1.5"/><circle class="j" cx="528" cy="2.5" r="1.5"/><circle class="j" cx="564" cy="2.5" r="1.5"/><circle class="j" cx="600" cy="2.3" r="1.3"/><circle class="j" cx="638" cy="2.3" r="1.3"/>
<g class="v" transform="translate(460,0)"><line y1="2.5" y2="10"/><rect x="-10" y="10" width="20" height="11"/><text y="19.2">560</text></g>
<g class="v" transform="translate(493,0)"><line y1="2.5" y2="10"/><rect x="-10" y="10" width="20" height="11"/><text y="19.2">500</text></g>
<g class="v" transform="translate(528,0)"><line y1="2.5" y2="10"/><rect x="-10" y="10" width="20" height="11"/><text y="19.2">460</text></g>
<g class="v" transform="translate(564,0)"><line y1="2.5" y2="10"/><rect x="-10" y="10" width="20" height="11"/><text y="19.2">420</text></g>
<g class="v" transform="translate(600,0)"><line y1="2.5" y2="10"/><rect x="-10" y="10" width="20" height="11"/><text y="19.2">340</text></g>
<g class="v" transform="translate(638,0)"><line y1="2.5" y2="10"/><rect x="-10" y="10" width="20" height="11"/><text y="19.2">280</text></g>
<g class="l" transform="translate(457,-14) rotate(45)"><rect x="-9" y="-4.5" width="18" height="9"/><text y="2.3">24,1</text></g>
<g class="l" transform="translate(490,-14) rotate(45)"><rect x="-9" y="-4.5" width="18" height="9"/><text y="2.3">25,8</text></g>
<g class="l" transform="translate(525,-14) rotate(45)"><rect x="-9" y="-4.5" width="18" height="9"/><text y="2.3">27,7</text></g>
<g class="l" transform="translate(561,-14) rotate(45)"><rect x="-9" y="-4.5" width="18" height="9"/><text y="2.3">29,6</text></g>
<g class="l" transform="translate(601,-14) rotate(45)"><rect x="-9" y="-4.5" width="18" height="9"/><text y="2.3">31,8</text></g>
<g class="l" transform="translate(638,-14) rotate(45)"><rect x="-9" y="-4.5" width="18" height="9"/><text y="2.3">33,8</text></g>
</g></g>

<!-- DPS-C (G-PJ075 BJV2) -->
<g transform="translate(0,1733)"><text class="t" x="282" y="4" textLength="29" lengthAdjust="spacingAndGlyphs">DPS-C</text>
<use href="#jb" x="324.5"/><rect class="r" x="334" y="-2.5" width="41.5" height="5"/><rect class="d" x="375.5" y="-2.5" width="105.5" height="5"/><rect class="e" x="481" y="-2" width="75" height="4"/>
<circle class="j" cx="409" cy="2.5" r="1.5"/><circle class="j" cx="445" cy="2.5" r="1.5"/><circle class="j" cx="481" cy="2.5" r="1.5"/><circle class="j" cx="517" cy="2.3" r="1.3"/><circle class="j" cx="555" cy="2.3" r="1.3"/>
<g class="v" transform="translate(377,0)"><line y1="2.5" y2="10"/><rect x="-10" y="10" width="20" height="11"/><text y="19.2">870</text></g>
<g class="v" transform="translate(409,0)"><line y1="2.5" y2="10"/><rect x="-10" y="10" width="20" height="11"/><text y="19.2">780</text></g>
<g class="v" transform="translate(445,0)"><line y1="2.5" y2="10"/><rect x="-10" y="10" width="20" height="11"/><text y="19.2">710</text></g>
<g class="v" transform="translate(481,0)"><line y1="2.5" y2="10"/><rect x="-10" y="10" width="20" height="11"/><text y="19.2">650</text></g>
<g class="v" transform="translate(517,0)"><line y1="2.5" y2="10"/><rect x="-10" y="10" width="20" height="11"/><text y="19.2">340</text></g>
<g class="v" transform="translate(555,0)"><line y1="2.5" y2="10"/><rect x="-10" y="10" width="20" height="11"/><text y="19.2">280</text></g>
<g class="l" transform="translate(374,-16) rotate(45)"><rect x="-9" y="-4.5" width="18" height="9"/><text y="2.3">19,6</text></g>
<g class="l" transform="translate(406,-16) rotate(45)"><rect x="-9" y="-4.5" width="18" height="9"/><text y="2.3">21,4</text></g>
<g class="l" transform="translate(442,-16) rotate(45)"><rect x="-9" y="-4.5" width="18" height="9"/><text y="2.3">23,3</text></g>
<g class="l" transform="translate(478,-16) rotate(45)"><rect x="-9" y="-4.5" width="18" height="9"/><text y="2.3">25,2</text></g>
<g class="l" transform="translate(514,-16) rotate(45)"><rect x="-9" y="-4.5" width="18" height="9"/><text y="2.3">27,3</text></g>
<g class="l" transform="translate(553,-16) rotate(45)"><rect x="-9" y="-4.5" width="18" height="9"/><text y="2.3">29,4</text></g>
</g>
</svg>
</body></html>
